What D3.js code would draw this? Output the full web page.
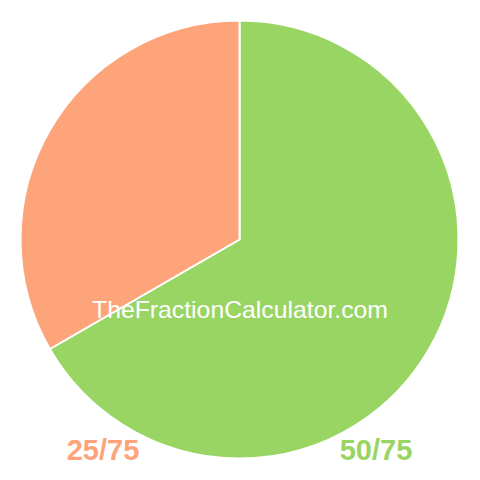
<!DOCTYPE html>
<html>
<head>
<meta charset="utf-8">
<script src="https://d3js.org/d3.v7.min.js"></script>
<style>
body { margin: 0; background: #fff; }
svg { display: block; }
</style>
</head>
<body>
<svg id="chart" width="480" height="480"></svg>
<script>
// fraction parts, drawn clockwise from 12 o'clock
var labels = ["50/75", "25/75"]
var values = [50, 25]
var colors = ["#99d563", "#fea47b"]
var watermark = "TheFractionCalculator.com"

var svg = d3.select("#chart"),
	width = +svg.attr("width"),
	height = +svg.attr("height"),
	radius = 219

var pie = d3.pie().sort(null).value(d => d)
var arc = d3.arc().innerRadius(0).outerRadius(radius)

var g = svg.append("g")
	.attr("transform", "translate(239.5,239.5)")

g.selectAll("path")
	.data(pie(values))
	.enter().append("path")
	.attr("d", arc)
	.attr("fill", (d, i) => colors[i])
	.attr("stroke", "#fff")
	.attr("stroke-width", 2)

svg.append("text")
	.attr("x", width / 2)
	.attr("y", 318)
	.attr("text-anchor", "middle")
	.attr("font-family", "Arial, 'Liberation Sans', sans-serif")
	.attr("font-size", 24)
	.attr("textLength", 296)
	.attr("lengthAdjust", "spacingAndGlyphs")
	.attr("fill", "#fff")
	.text(watermark)

// labels at the bottom: first part on the right, second on the left
var labelX = [376, 103]
svg.selectAll(".lbl")
	.data(labels)
	.enter().append("text")
	.attr("class", "lbl")
	.attr("x", (d, i) => labelX[i])
	.attr("y", 460)
	.attr("text-anchor", "middle")
	.attr("font-family", "Arial, 'Liberation Sans', sans-serif")
	.attr("font-weight", "bold")
	.attr("font-size", 29)
	.attr("fill", (d, i) => colors[i])
	.text(d => d)
</script>
</body>
</html>
